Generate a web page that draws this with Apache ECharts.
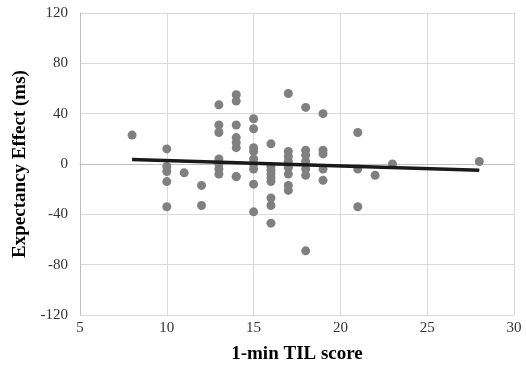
<!DOCTYPE html>
<html>
<head>
<meta charset="utf-8">
<script src="https://cdn.jsdelivr.net/npm/echarts@6/dist/echarts.min.js"></script>
<style>html,body{margin:0;padding:0;background:#fff}#c{width:526px;height:374px}</style>
</head>
<body>
<div id="c"></div>
<script>
// TIL scores (x) and expectancy effects (y), paired by index
const tilScores = [
  8,
  10,10,10,10,10,
  11,
  12,12,
  13,13,13,13,13,13,13,
  14,14,14,14,14,14,14,14,
  15,15,15,15,15,15,15,15,15,
  16,16,16,16,16,16,16,16,16,
  17,17,17,17,17,17,17,17,
  18,18,18,18,18,18,18,
  19,19,19,19,19,
  21,21,21,
  22,
  23,
  28
];
const effects = [
  23,
  12,-2,-6,-14,-34,
  -7,
  -17,-33,
  47,31,25,4,0,-4,-8,
  55,50,31,21,17,13,-10,-10,
  36,28,13,10,4,0,-4,-16,-38,
  16,-2,-5,-8,-11,-14,-27,-33,-47,
  56,10,6,2,-3,-8,-17,-21,
  45,11,7,2,-4,-9,-69,
  40,11,8,-4,-13,
  25,-4,-34,
  -9,
  0,
  2
];
const trendX = [8, 28];
const trendY = [3.5, -5];
const xTicks = [5, 10, 15, 20, 25, 30];
const yTicks = [-120, -80, -40, 0, 40, 80, 120];

const points = tilScores.map((x, i) => [x, effects[i]]);
const trend = trendX.map((x, i) => [x, trendY[i]]);

const chart = echarts.init(document.getElementById('c'), null, {renderer: 'canvas'});
const font = '"Liberation Serif", "Times New Roman", serif';
chart.setOption({
  animation: false,
  grid: {left: 80, right: 12, top: 13, bottom: 59},
  xAxis: {
    type: 'value', min: xTicks[0], max: xTicks[xTicks.length - 1], interval: 5,
    name: '1-min TIL score', nameLocation: 'middle', nameGap: 30,
    nameTextStyle: {fontFamily: font, fontSize: 19, fontWeight: 'bold', color: '#000'},
    axisLine: {show: true, lineStyle: {color: '#bfbfbf'}},
    axisTick: {show: false},
    axisLabel: {fontFamily: font, fontSize: 15, color: '#333', margin: 6},
    splitLine: {show: true, lineStyle: {color: '#d9d9d9'}}
  },
  yAxis: {
    type: 'value', min: yTicks[0], max: yTicks[yTicks.length - 1], interval: 40,
    name: 'Expectancy Effect (ms)', nameLocation: 'middle', nameGap: 45, nameRotate: 90,
    nameTextStyle: {fontFamily: font, fontSize: 19, fontWeight: 'bold', color: '#000'},
    axisLine: {show: true, lineStyle: {color: '#bfbfbf'}},
    axisTick: {show: false},
    axisLabel: {fontFamily: font, fontSize: 15, color: '#333', margin: 12},
    splitLine: {show: true, lineStyle: {color: '#d9d9d9'}}
  },
  series: [
    {
      type: 'scatter', data: points, symbolSize: 9,
      itemStyle: {color: '#808080', opacity: 1}
    },
    {
      type: 'line', data: trend, showSymbol: false, symbol: 'none',
      lineStyle: {color: '#1a1a1a', width: 3.5}, z: 5
    }
  ]
});
</script>
</body>
</html>
